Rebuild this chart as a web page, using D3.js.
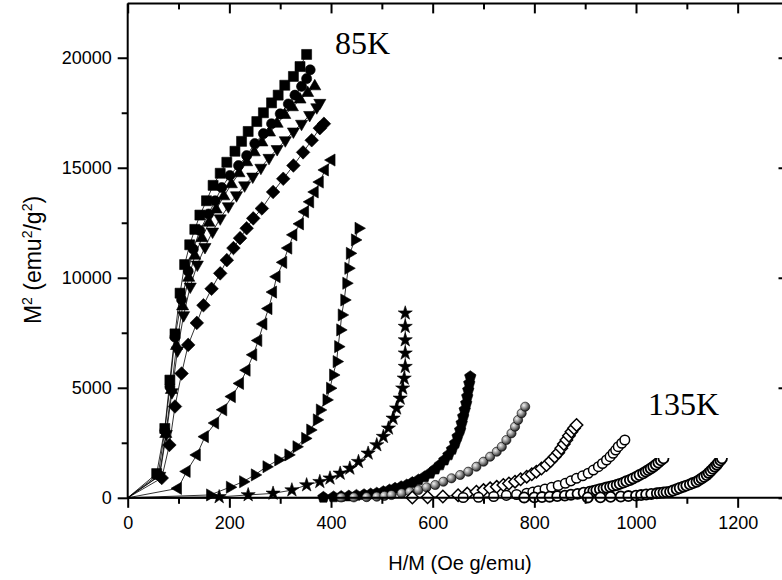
<!DOCTYPE html>
<html>
<head>
<meta charset="utf-8">
<script src="https://cdn.jsdelivr.net/npm/d3@7"></script>
<style>
  body { margin: 0; background: #fff; }
  svg { display: block; }
</style>
</head>
<body>
<svg id="chart" width="782" height="580"></svg>
<script>
// Arrott plot: M^2 versus H/M for a set of isotherms, 85 K (top) to 135 K (right)

const xTickValues = [0, 200, 400, 600, 800, 1000, 1200];
const yTickValues = [0, 5000, 10000, 15000, 20000];

// each isotherm as [H/M, M^2] pairs
const isoSquare = [[0,0],[57,1100],[73,3150],[83,5350],[93,7450],[103,9300],[112,10600],[122,11500],[132,12200],[142,12850],[155,13500],[168,14200],[182,14750],[195,15250],[211,15750],[224,16200],[237,16650],[254,17100],[267,17500],[283,17950],[296,18300],[309,18750],[326,19150],[339,19600],[352,20150]];
const isoCircle = [[0,0],[60,1050],[73,3050],[83,5050],[93,7300],[106,9000],[119,10300],[129,11300],[142,12150],[159,12900],[172,13500],[185,14100],[201,14650],[218,15100],[234,15550],[250,16100],[267,16550],[283,17000],[300,17450],[316,17900],[329,18300],[342,18700],[352,19050],[359,19450]];
const isoTriUp = [[0,0],[62,1000],[75,2900],[86,4900],[96,6900],[108,8700],[120,10000],[132,11000],[146,11800],[160,12500],[174,13100],[189,13700],[204,14250],[219,14750],[234,15250],[249,15700],[264,16150],[279,16600],[294,17000],[309,17400],[324,17750],[339,18100],[354,18400],[368,18700]];
const isoTriDown = [[0,0],[63,1000],[76,2900],[87,4800],[98,6700],[110,8300],[123,9600],[137,10600],[152,11400],[167,12100],[182,12700],[198,13250],[214,13750],[230,14200],[246,14600],[262,15000],[278,15450],[294,15850],[310,16250],[326,16650],[342,17000],[358,17400],[372,17750],[378,17950]];
const isoDiamond = [[0,0],[67,900],[82,2400],[93,4150],[106,5650],[119,6950],[136,7950],[149,8750],[165,9500],[182,10200],[195,10800],[208,11350],[221,11800],[234,12250],[247,12700],[264,13150],[286,13900],[306,14500],[326,15100],[345,15700],[362,16250],[378,16800],[386,17000]];
const isoTriLeft = [[0,0],[99,430],[116,1200],[136,1950],[152,2780],[172,3400],[188,4000],[205,4600],[221,5200],[234,5800],[247,6500],[257,7150],[267,7900],[277,8600],[286,9350],[293,10050],[306,10700],[316,11350],[326,11950],[339,12450],[349,13000],[359,13450],[368,13900],[378,14350],[388,14900],[401,15350]];
const isoTriRight = [[0,0],[162,130],[201,480],[227,730],[250,1040],[273,1410],[296,1720],[316,1950],[332,2320],[349,2700],[359,3080],[372,3540],[378,3990],[391,4450],[398,4980],[404,5580],[411,6190],[414,6870],[418,7630],[421,8310],[426,8990],[430,9750],[434,10430],[437,11110],[447,11720],[454,12250]];
const isoStar = [[0,0],[180,40],[237,130],[286,200],[323,350],[352,580],[378,730],[398,890],[418,1110],[437,1340],[454,1640],[473,2020],[490,2400],[503,2780],[513,3160],[522,3610],[529,4070],[536,4520],[541,4980],[544,5430],[546,5960],[546,6570],[546,7170],[546,7780],[546,8390]];
const isoPentagon = [[0,0],[385,20],[405,40],[420,60],[435,80],[450,110],[465,140],[478,170],[490,210],[503,277],[515,350],[526,430],[538,500],[549,582],[560,690],[572,809],[584,950],[595,1114],[605,1300],[614,1490],[623,1710],[631,1945],[638,2200],[644,2477],[649,2780],[654,3082],[657,3390],[660,3690],[663,4000],[666,4295],[668,4600],[670,4900],[672,5200],[674,5505]];
const isoSphere = [[0,0],[420,15],[445,20],[470,30],[490,50],[505,85],[519,127],[539,205],[555,277],[572,355],[588,477],[605,582],[621,732],[637,886],[654,1036],[670,1186],[686,1414],[700,1641],[713,1868],[726,2095],[736,2323],[745,2627],[755,2930],[762,3232],[768,3536],[775,3840],[782,4140]];
const isoHatch = [[0,0],[560,15],[590,25],[620,60],[650,120],[668,190],[686,277],[700,350],[713,430],[726,500],[739,582],[750,650],[762,732],[773,840],[785,960],[795,1070],[804,1186],[814,1330],[824,1490],[832,1670],[840,1868],[847,2050],[853,2250],[858,2440],[863,2627],[868,2820],[873,3005],[878,3160],[883,3310]];
const isoOpen = [[0,0],[660,15],[690,25],[720,60],[745,110],[765,150],[785,205],[797,260],[808,323],[821,400],[834,477],[847,560],[861,659],[872,770],[883,886],[895,1000],[906,1114],[916,1260],[926,1414],[934,1560],[942,1718],[949,1870],[955,2023],[960,2170],[965,2323],[972,2480],[978,2627]];
const isoBandA = [[0,0],[780,15],[800,20],[815,35],[830,50],[845,75],[860,100],[872,140],[885,180],[897,230],[909,277],[916,310],[922,350],[929,390],[936,430],[942,465],[949,500],[955,540],[962,582],[968,635],[975,690],[981,750],[988,809],[994,880],[1001,960],[1007,1035],[1014,1114],[1019,1190],[1024,1260],[1029,1335],[1034,1414],[1039,1505],[1044,1600],[1049,1700],[1054,1795]];
const isoBandB = [[0,0],[905,15],[930,20],[950,40],[970,60],[985,80],[1000,100],[1010,125],[1020,150],[1030,175],[1041,205],[1047,222],[1054,240],[1060,258],[1067,277],[1073,330],[1080,390],[1086,445],[1093,505],[1099,555],[1106,610],[1112,670],[1119,732],[1124,805],[1129,880],[1134,955],[1139,1036],[1143,1130],[1147,1220],[1151,1315],[1155,1414],[1159,1505],[1162,1600],[1166,1700],[1169,1795]];

// drawing order and marker kind for each isotherm
const isotherms = [
  { data: isoSquare,   marker: "square" },
  { data: isoCircle,   marker: "circle" },
  { data: isoTriUp,    marker: "triUp" },
  { data: isoTriDown,  marker: "triDown" },
  { data: isoDiamond,  marker: "diamond" },
  { data: isoTriLeft,  marker: "triLeft" },
  { data: isoTriRight, marker: "triRight" },
  { data: isoStar,     marker: "star" },
  { data: isoPentagon, marker: "pentagon" },
  { data: isoSphere,   marker: "sphere" },
  { data: isoHatch,    marker: "openDiamond" },
  { data: isoOpen,     marker: "openCircle" },
  { data: isoBandA,    marker: "bandCircle" },
  { data: isoBandB,    marker: "bandCircle" }
];

const svg = d3.select("#chart");

const xMax = 1300, yMax = 22470;
const x = d3.scaleLinear().domain([0, xMax]).range([127.7, 788.5]);
const y = d3.scaleLinear().domain([0, yMax]).range([497.8, 3.4]);

// sphere shading
const defs = svg.append("defs");
const grad = defs.append("radialGradient").attr("id", "sphereFill")
  .attr("cx", "35%").attr("cy", "35%").attr("r", "65%");
grad.append("stop").attr("offset", "0%").attr("stop-color", "#f2f2f2");
grad.append("stop").attr("offset", "55%").attr("stop-color", "#8a8a8a");
grad.append("stop").attr("offset", "100%").attr("stop-color", "#2a2a2a");

function polygon(pts) {
  return "M" + pts.map(p => p[0].toFixed(2) + "," + p[1].toFixed(2)).join("L") + "Z";
}
function regular(n, r, rot) {
  const pts = [];
  for (let i = 0; i < n; i++) {
    const a = rot + i * 2 * Math.PI / n;
    pts.push([r * Math.sin(a), -r * Math.cos(a)]);
  }
  return polygon(pts);
}
function markerPath(kind) {
  switch (kind) {
    case "square": return polygon([[-5,-5],[5,-5],[5,5],[-5,5]]);
    case "circle": return d3.symbol(d3.symbolCircle, 80)();
    case "sphere": return d3.symbol(d3.symbolCircle, 66)();
    case "openCircle": return d3.symbol(d3.symbolCircle, 72)();
    case "bandCircle": return d3.symbol(d3.symbolCircle, 80)();
    case "triUp": return regular(3, 7, 0);
    case "triDown": return regular(3, 7, Math.PI);
    case "triLeft": return regular(3, 7, -Math.PI / 2);
    case "triRight": return regular(3, 7, Math.PI / 2);
    case "diamond": return regular(4, 6.8, 0);
    case "openDiamond": return regular(4, 6.2, 0);
    case "pentagon": return regular(5, 6, 0);
    case "star": return d3.symbol(d3.symbolStar, 62)();
  }
}
const openKinds = ["openCircle", "openDiamond", "bandCircle"];
const strokeWidths = { openCircle: 1.5, openDiamond: 1.5, bandCircle: 1.8 };

const plot = svg.append("g");
const line = d3.line().x(d => x(d[0])).y(d => y(d[1]));

isotherms.forEach(s => {
  const g = plot.append("g");
  g.append("path").attr("d", line(s.data))
    .attr("fill", "none").attr("stroke", "#000").attr("stroke-width", 0.8);
  const open = openKinds.includes(s.marker);
  const fill = s.marker === "sphere" ? "url(#sphereFill)" : (open ? "#fff" : "#000");
  const d = markerPath(s.marker);
  g.selectAll("path.m").data(s.data.slice(1)).join("path")
    .attr("class", "m")
    .attr("d", d)
    .attr("transform", p => `translate(${x(p[0])},${y(p[1])})`)
    .attr("fill", fill)
    .attr("stroke", "#000")
    .attr("stroke-width", open ? strokeWidths[s.marker] : 0.6);
});

// temperature labels (the 135 K label sits on an opaque box)
svg.append("rect").attr("x", 640).attr("y", 382).attr("width", 88).attr("height", 76).attr("fill", "#fff");
svg.append("text").attr("x", 335).attr("y", 54)
  .attr("font-family", "Liberation Serif, Times New Roman, serif").attr("font-size", 32)
  .text("85K");
svg.append("text").attr("x", 648).attr("y", 415)
  .attr("font-family", "Liberation Serif, Times New Roman, serif").attr("font-size", 32)
  .text("135K");

// axes frame
const frame = svg.append("g").attr("stroke", "#000").attr("stroke-width", 2).attr("fill", "none");
frame.append("line").attr("x1", x(0)).attr("x2", x(xMax)).attr("y1", y(0)).attr("y2", y(0));
frame.append("line").attr("x1", x(0)).attr("x2", x(xMax)).attr("y1", y(yMax)).attr("y2", y(yMax));
frame.append("line").attr("x1", x(0)).attr("x2", x(0)).attr("y1", y(0)).attr("y2", y(yMax));
frame.append("line").attr("x1", x(xMax)).attr("x2", x(xMax)).attr("y1", y(0)).attr("y2", y(yMax));

const font = "Liberation Sans, Arial, Helvetica, sans-serif";
const xMinorValues = d3.range(100, xMax, 200);
const yMinorValues = d3.range(2500, yMax, 5000);

const axisGroups = [];
function addAxis(axis, tx, ty) {
  const g = svg.append("g").attr("transform", `translate(${tx},${ty})`).call(axis);
  axisGroups.push(g);
  return g;
}
// bottom: labelled ticks every 200, minor ticks between
addAxis(d3.axisBottom(x).tickValues(xTickValues).tickSize(10).tickPadding(8).tickFormat(d3.format("d")), 0, y(0));
addAxis(d3.axisBottom(x).tickValues(xMinorValues).tickSize(6).tickFormat(""), 0, y(0));
// left
addAxis(d3.axisLeft(y).tickValues(yTickValues).tickSize(10).tickPadding(6).tickFormat(d3.format("d")), x(0), 0);
addAxis(d3.axisLeft(y).tickValues(yMinorValues).tickSize(6).tickFormat(""), x(0), 0);
// top: inward ticks
addAxis(d3.axisBottom(x).tickValues(xTickValues).tickSize(10).tickFormat(""), 0, y(yMax));
addAxis(d3.axisBottom(x).tickValues(xMinorValues).tickSize(6).tickFormat(""), 0, y(yMax));
// right: inward ticks
addAxis(d3.axisLeft(y).tickValues(yTickValues).tickSize(10).tickFormat(""), x(xMax), 0);
addAxis(d3.axisLeft(y).tickValues(yMinorValues).tickSize(6).tickFormat(""), x(xMax), 0);

axisGroups.forEach(g => {
  g.select(".domain").remove();
  g.selectAll(".tick line").attr("stroke", "#000").attr("stroke-width", 2);
  g.selectAll(".tick text").attr("font-family", font).attr("font-size", 18).attr("fill", "#000");
});

// axis titles
svg.append("text").attr("x", 460).attr("y", 570).attr("text-anchor", "middle")
  .attr("font-family", font).attr("font-size", 20).text("H/M (Oe g/emu)");

const yt = svg.append("text").attr("transform", "translate(41,260) rotate(-90)")
  .attr("text-anchor", "middle").attr("font-family", font).attr("font-size", 23);
yt.append("tspan").text("M");
yt.append("tspan").attr("dy", -9).attr("font-size", 14).text("2");
yt.append("tspan").attr("dy", 9).text(" (emu");
yt.append("tspan").attr("dy", -9).attr("font-size", 14).text("2");
yt.append("tspan").attr("dy", 9).text("/g");
yt.append("tspan").attr("dy", -9).attr("font-size", 14).text("2");
yt.append("tspan").attr("dy", 9).text(")");
</script>
</body>
</html>
